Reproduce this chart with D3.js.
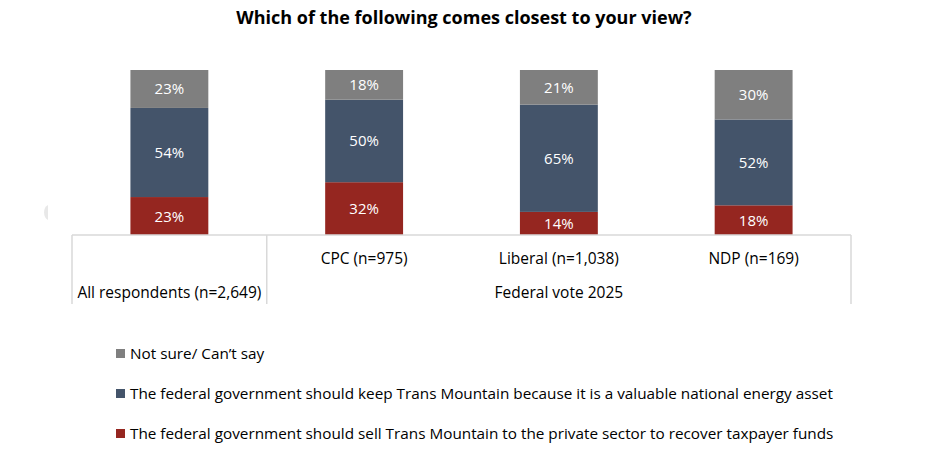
<!DOCTYPE html>
<html>
<head>
<meta charset="utf-8">
<script src="https://cdn.jsdelivr.net/npm/d3@7"></script>
<style>
  body { margin: 0; background: #fff; }
  svg { display: block; font-family: "Open Sans", Lato, sans-serif; }
</style>
</head>
<body>
<svg id="chart" width="936" height="464"></svg>
<script>
const title = "Which of the following comes closest to your view?";
const categories = ["All respondents (n=2,649)", "CPC (n=975)", "Liberal (n=1,038)", "NDP (n=169)"];
const groupLabel = "Federal vote 2025";
const seriesNames = [
  "The federal government should sell Trans Mountain to the private sector to recover taxpayer funds",
  "The federal government should keep Trans Mountain because it is a valuable national energy asset",
  "Not sure/ Can\u2019t say"
];
const sellValues = [23, 32, 14, 18];
const keepValues = [54, 50, 65, 52];
const notSureValues = [23, 18, 21, 30];
const colors = ["#952620", "#44546a", "#7f7f7f"];

const svg = d3.select("#chart");

svg.append("text").attr("x", 464).attr("y", 24).attr("text-anchor", "middle")
  .attr("font-size", 18).attr("font-weight", 700).attr("fill", "#000").text(title);

const x = d3.scaleBand().domain(categories).range([72, 851]).paddingInner(0.6).paddingOuter(0.3);
const y = d3.scaleLinear().domain([0, 100]).range([235, 70]);

const table = categories.map((c, i) => ({ cat: c, s0: sellValues[i], s1: keepValues[i], s2: notSureValues[i] }));
const stacked = d3.stack().keys(["s0", "s1", "s2"])(table);

const g = svg.append("g");
stacked.forEach((layer, li) => {
  const lg = g.append("g");
  lg.selectAll("rect").data(layer).enter().append("rect")
    .attr("x", d => x(d.data.cat))
    .attr("width", x.bandwidth())
    .attr("y", d => y(d[1]))
    .attr("height", d => y(d[0]) - y(d[1]))
    .attr("fill", colors[li]);
  lg.selectAll("text").data(layer).enter().append("text")
    .attr("x", d => x(d.data.cat) + x.bandwidth() / 2)
    .attr("y", d => (y(d[0]) + y(d[1])) / 2 + 5.5)
    .attr("text-anchor", "middle").attr("font-size", 15).attr("fill", "#fff")
    .text(d => (d[1] - d[0]) + "%");
});

const axisColor = "#d9d9d9";
const x0 = 72, x1 = 851, yTop = 235, yBot = 304;
const divX = x(categories[1]) - (x.step() - x.bandwidth()) / 2;
const box = svg.append("g").attr("stroke", axisColor).attr("stroke-width", 1.5).attr("fill", "none");
box.append("line").attr("x1", x0).attr("x2", x1).attr("y1", yTop).attr("y2", yTop);
box.append("line").attr("x1", x0).attr("x2", x0).attr("y1", yTop).attr("y2", yBot);
box.append("line").attr("x1", x1).attr("x2", x1).attr("y1", yTop).attr("y2", yBot);
box.append("line").attr("x1", divX).attr("x2", divX).attr("y1", yTop).attr("y2", yBot);

svg.selectAll("text.cat").data(categories).enter().append("text").attr("class", "cat")
  .attr("x", d => x(d) + x.bandwidth() / 2)
  .attr("y", (d, i) => i === 0 ? 298 : 264)
  .attr("text-anchor", "middle").attr("font-size", 15.5).attr("fill", "#000").text(d => d);
svg.append("text").attr("x", x(categories[2]) + x.bandwidth() / 2).attr("y", 298)
  .attr("text-anchor", "middle").attr("font-size", 15.5).attr("fill", "#000").text(groupLabel);

svg.append("path").attr("d", "M48,205 A6,8 0 0 0 48,220 Z").attr("fill", "#e8e8e8");

const legendOrder = [2, 1, 0];
const lgY = [353, 393, 433];
legendOrder.forEach((si, k) => {
  svg.append("rect").attr("x", 116).attr("y", lgY[k] - 4).attr("width", 9).attr("height", 9).attr("fill", colors[si]);
  svg.append("text").attr("x", 130).attr("y", lgY[k] + 6).attr("font-size", 15.3).attr("fill", "#000").text(seriesNames[si]);
});
</script>
</body>
</html>
